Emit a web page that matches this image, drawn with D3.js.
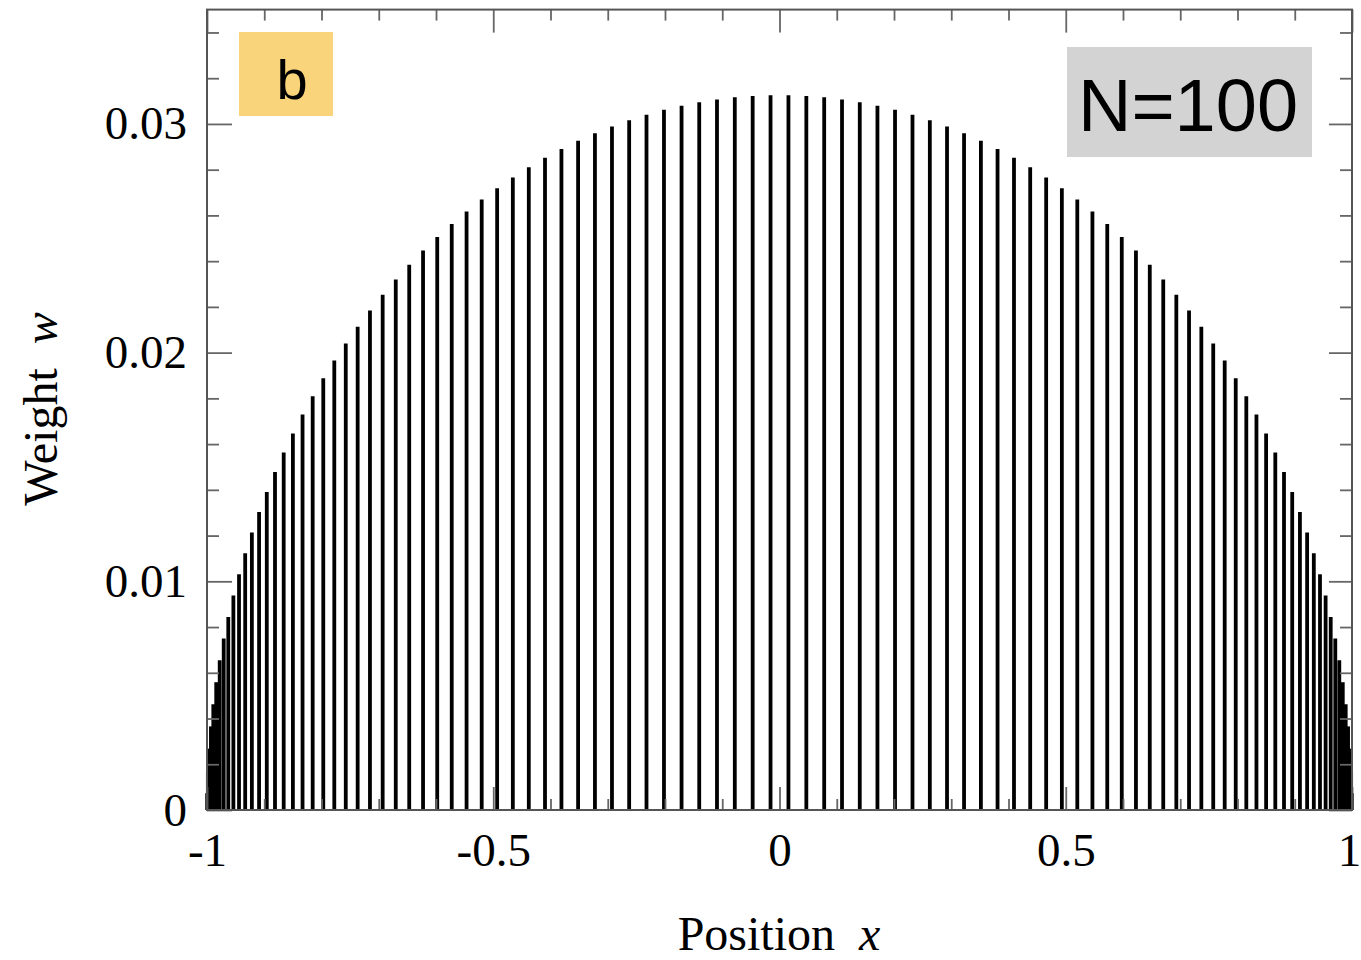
<!DOCTYPE html>
<html>
<head>
<meta charset="utf-8">
<script src="https://cdn.jsdelivr.net/npm/d3@7"></script>
<style>
  html, body { margin: 0; padding: 0; background: #fff; }
  svg { display: block; }
</style>
</head>
<body>
<svg id="chart" width="1361" height="960"></svg>
<script>
// Node positions x (Gauss–Legendre, N=100)
const positions = [
-0.999725,-0.998504,-0.996307,-0.993137,-0.988997,-0.983890,-0.977822,-0.970800,-0.962826,-0.953913,
-0.944068,-0.933300,-0.921625,-0.909042,-0.895573,-0.881230,-0.866026,-0.849975,-0.833096,-0.815401,
-0.796909,-0.777639,-0.757609,-0.736839,-0.715348,-0.693159,-0.670295,-0.646772,-0.622619,-0.597858,
-0.572511,-0.546606,-0.520167,-0.493220,-0.465790,-0.437905,-0.409593,-0.380880,-0.351796,-0.322366,
-0.292624,-0.262594,-0.232308,-0.201796,-0.171085,-0.140208,-0.109193,-0.078073,-0.046875,-0.015632,
0.015632,0.046875,0.078073,0.109193,0.140208,0.171085,0.201796,0.232308,0.262594,0.292624,
0.322366,0.351796,0.380880,0.409593,0.437905,0.465790,0.493220,0.520167,0.546606,0.572511,
0.597858,0.622619,0.646772,0.670295,0.693159,0.715348,0.736839,0.757609,0.777639,0.796909,
0.815401,0.833096,0.849975,0.866026,0.881230,0.895573,0.909042,0.921625,0.933300,0.944068,
0.953913,0.962826,0.970800,0.977822,0.983890,0.988997,0.993137,0.996307,0.998504,0.999725];

// Weights w
const weights = [
0.000733,0.001709,0.002684,0.003656,0.004624,0.005588,0.006547,0.007499,0.008444,0.009380,
0.010308,0.011225,0.012131,0.013026,0.013908,0.014776,0.015630,0.016468,0.017290,0.018096,
0.018884,0.019653,0.020403,0.021134,0.021843,0.022531,0.023198,0.023841,0.024461,0.025058,
0.025630,0.026176,0.026698,0.027193,0.027661,0.028103,0.028517,0.028903,0.029261,0.029590,
0.029891,0.030162,0.030404,0.030616,0.030799,0.030951,0.031073,0.031164,0.031225,0.031255,
0.031255,0.031225,0.031164,0.031073,0.030951,0.030799,0.030616,0.030404,0.030162,0.029891,
0.029590,0.029261,0.028903,0.028517,0.028103,0.027661,0.027193,0.026698,0.026176,0.025630,
0.025058,0.024461,0.023841,0.023198,0.022531,0.021843,0.021134,0.020403,0.019653,0.018884,
0.018096,0.017290,0.016468,0.015630,0.014776,0.013908,0.013026,0.012131,0.011225,0.010308,
0.009380,0.008444,0.007499,0.006547,0.005588,0.004624,0.003656,0.002684,0.001709,0.000733];

const xMajorTicks = [-1, -0.5, 0, 0.5, 1];
const xTickLabels = ["-1", "-0.5", "0", "0.5", "1"];
const xMinorTicks = [-0.9,-0.8,-0.7,-0.6,-0.4,-0.3,-0.2,-0.1,0.1,0.2,0.3,0.4,0.6,0.7,0.8,0.9];
const yMajorTicks = [0, 0.01, 0.02, 0.03];
const yTickLabels = ["0", "0.01", "0.02", "0.03"];
const yMinorTicks = [0.002,0.004,0.006,0.008,0.012,0.014,0.016,0.018,0.022,0.024,0.026,0.028,0.032,0.034];

const panelLabel = "b";
const annotation = "N=100";

const L = 207, R = 1352, T = 9.6, B = 810;
const svg = d3.select("#chart");
const x = d3.scaleLinear().domain([-1, 1]).range([L, R]);
const y = d3.scaleLinear().domain([0, 0.035]).range([B, T]);

const tickColor = "#666";
const serif = "'Liberation Serif', 'Times New Roman', serif";

// bars (sticks)
svg.append("g").selectAll("line")
  .data(positions.map((p, i) => ({p, w: weights[i]})))
  .join("line")
  .attr("x1", d => x(d.p)).attr("x2", d => x(d.p))
  .attr("y1", y(0)).attr("y2", d => y(d.w))
  .attr("stroke", "#000").attr("stroke-width", 3.8);

function styleAxis(g) {
  g.select(".domain").remove();
  g.selectAll(".tick line").attr("stroke", tickColor).attr("stroke-width", 1.8);
  g.selectAll("text").attr("font-family", serif).attr("font-size", 47).attr("fill", "#000");
}

// bottom axis
svg.append("g").attr("transform", `translate(0,${B})`)
  .call(d3.axisBottom(x).tickValues(xMinorTicks).tickSize(-11).tickFormat(""))
  .call(styleAxis);
const bottomMajor = svg.append("g").attr("transform", `translate(0,${B})`)
  .call(d3.axisBottom(x).tickValues(xMajorTicks).tickSize(-23).tickPadding(23)
        .tickFormat((d, i) => xTickLabels[i]))
  .call(styleAxis);
// keep the last label inside the page edge
bottomMajor.selectAll(".tick text").filter(d => d === 1).attr("dx", -3);
// top axis
svg.append("g").attr("transform", `translate(0,${T})`)
  .call(d3.axisTop(x).tickValues(xMinorTicks).tickSize(-11).tickFormat(""))
  .call(styleAxis);
svg.append("g").attr("transform", `translate(0,${T})`)
  .call(d3.axisTop(x).tickValues(xMajorTicks).tickSize(-23).tickFormat(""))
  .call(styleAxis);
// left axis
svg.append("g").attr("transform", `translate(${L},0)`)
  .call(d3.axisLeft(y).tickValues(yMinorTicks).tickSize(-12).tickFormat(""))
  .call(styleAxis);
svg.append("g").attr("transform", `translate(${L},0)`)
  .call(d3.axisLeft(y).tickValues(yMajorTicks).tickSize(-25).tickPadding(20)
        .tickFormat((d, i) => yTickLabels[i]))
  .call(styleAxis);
// right axis
svg.append("g").attr("transform", `translate(${R},0)`)
  .call(d3.axisRight(y).tickValues(yMinorTicks).tickSize(-12).tickFormat(""))
  .call(styleAxis);
svg.append("g").attr("transform", `translate(${R},0)`)
  .call(d3.axisRight(y).tickValues(yMajorTicks).tickSize(-23).tickFormat(""))
  .call(styleAxis);

// frame
svg.append("rect").attr("x", L).attr("y", T).attr("width", R - L).attr("height", B - T)
  .attr("fill", "none").attr("stroke", "#555").attr("stroke-width", 2);

// axis titles
const xt = svg.append("text").attr("x", 779).attr("y", 950)
  .attr("text-anchor", "middle").attr("font-family", serif).attr("font-size", 48);
xt.append("tspan").text("Position\u00a0\u00a0");
xt.append("tspan").attr("font-style", "italic").text("x");

const yt = svg.append("text").attr("transform", "translate(57,409) rotate(-90)")
  .attr("text-anchor", "middle").attr("font-family", serif).attr("font-size", 48);
yt.append("tspan").text("Weight\u00a0\u00a0");
yt.append("tspan").attr("font-style", "italic").text("w");

// panel label
svg.append("rect").attr("x", 239).attr("y", 32).attr("width", 94).attr("height", 84)
  .attr("fill", "#F9D47A");
svg.append("text").attr("x", 292).attr("y", 99).attr("text-anchor", "middle")
  .attr("font-family", "'Liberation Sans', Arial, sans-serif").attr("font-size", 56)
  .text(panelLabel);

// N annotation
svg.append("rect").attr("x", 1067).attr("y", 47).attr("width", 245).attr("height", 110)
  .attr("fill", "#D3D3D3");
svg.append("text").attr("x", 1188).attr("y", 131).attr("text-anchor", "middle")
  .attr("font-family", "'Liberation Sans', Arial, sans-serif").attr("font-size", 74)
  .text(annotation);
</script>
</body>
</html>
